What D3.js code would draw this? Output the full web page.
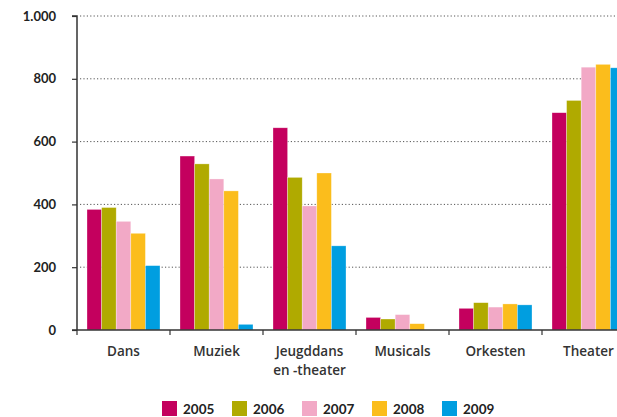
<!DOCTYPE html>
<html><head><meta charset="utf-8">
<script src="https://cdn.jsdelivr.net/npm/d3@7"></script>
<style>body{margin:0;background:#fff;overflow:hidden}svg{display:block;font-family:"Open Sans","DejaVu Sans",sans-serif}</style>
</head><body>
<svg id="c" width="617" height="417"></svg>
<script>
const categories = ["Dans", "Muziek", "Jeugddans\nen -theater", "Musicals", "Orkesten", "Theater"];
const years = ["2005", "2006", "2007", "2008", "2009"];
const v2005 = [384, 554, 644, 40, 69, 692];
const v2006 = [390, 529, 486, 35, 87, 731];
const v2007 = [346, 481, 395, 49, 73, 837];
const v2008 = [308, 443, 500, 20, 83, 846];
const v2009 = [205, 18, 268, 0, 80, 835];
const yTicks = [0, 200, 400, 600, 800, 1000];
const yTickLabels = ["0", "200", "400", "600", "800", "1.000"];
const colors = ["#c4005e", "#b0aa00", "#f2a9c6", "#fbbd1c", "#009ee0"];

const series = [v2005, v2006, v2007, v2008, v2009];
const svg = d3.select("#c");
const x0 = 77, bandW = 93;
const x = d3.scaleBand().domain(categories).range([x0, x0 + bandW * categories.length]).paddingInner(0).paddingOuter(0);
const xi = d3.scaleBand().domain(years).range([10, bandW - 10]).padding(0);
const y = d3.scaleLinear().domain([0, 1000]).range([330, 16]);

// gridlines
svg.append("g").selectAll("line").data(yTicks.filter(d => d > 0)).join("line")
  .attr("x1", x0 + 3).attr("x2", 617).attr("y1", d => y(d)).attr("y2", d => y(d))
  .attr("stroke", "#555").attr("stroke-width", 1).attr("stroke-dasharray", "1.2,2.2");

// bars
const g = svg.append("g");
categories.forEach((c, i) => {
  series.forEach((s, j) => {
    if (s[i] <= 0) return;
    g.append("rect")
      .attr("x", x(c) + xi(years[j]))
      .attr("y", y(s[i]))
      .attr("width", xi.bandwidth())
      .attr("height", y(0) - y(s[i]))
      .attr("fill", colors[j])
      .attr("stroke", "#fff").attr("stroke-opacity", 0.5).attr("stroke-width", 0.6);
  });
});

// y axis
const ya = svg.append("g").attr("transform", `translate(${x0},0)`)
  .call(d3.axisLeft(y).tickValues(yTicks).tickFormat((d, i) => yTickLabels[i]).tickSize(5).tickPadding(16));
ya.select(".domain").attr("stroke", "#333").attr("stroke-width", 1.5).attr("d", `M-5,${y(1000)}H0V${y(0)}`);
ya.selectAll(".tick line").attr("stroke", "#333").attr("stroke-width", 1.2);
ya.selectAll(".tick text").attr("font-size", 13).attr("font-weight", 700).attr("fill", "#222")
  .attr("font-family", "Lato, 'Open Sans', sans-serif");

// x axis
const xa = svg.append("g").attr("transform", `translate(0,${y(0)})`)
  .call(d3.axisBottom(x).tickSize(0).tickFormat(""));
xa.select(".domain").attr("stroke", "#333").attr("stroke-width", 1.5).attr("d", `M${x0 - 5},0H617`);
xa.selectAll(".tick").remove();
xa.selectAll("line.sep").data(categories).join("line").attr("class", "sep")
  .attr("x1", d => x(d)).attr("x2", d => x(d)).attr("y1", 0).attr("y2", 5)
  .attr("stroke", "#333").attr("stroke-width", 1.2);

// category labels
const lab = svg.append("g");
categories.forEach(c => {
  const lines = c.split("\n");
  const t = lab.append("text").attr("x", x(c) + x.bandwidth() / 2).attr("y", 356)
    .attr("text-anchor", "middle").attr("font-size", 13.5).attr("font-weight", 600).attr("fill", "#333");
  lines.forEach((l, k) => t.append("tspan").attr("x", x(c) + x.bandwidth() / 2).attr("dy", k ? 19 : 0).text(l));
});

// legend
const leg = svg.append("g");
years.forEach((yr, j) => {
  const lx = 162 + j * 70;
  leg.append("rect").attr("x", lx).attr("y", 401).attr("width", 15).attr("height", 15).attr("fill", colors[j]);
  leg.append("text").attr("x", lx + 21).attr("y", 414).attr("font-size", 13.5).attr("font-weight", 700)
    .attr("fill", "#222").attr("font-family", "Lato, 'Open Sans', sans-serif").text(yr);
});
</script>
</body></html>
